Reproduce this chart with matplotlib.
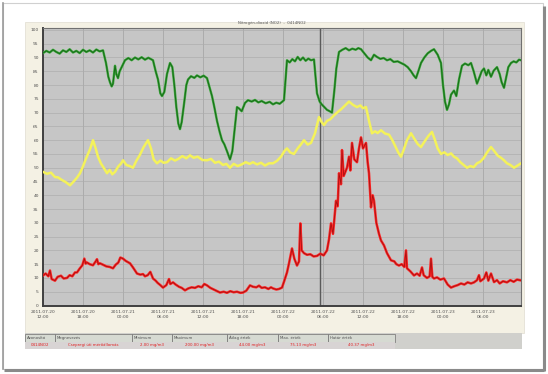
import matplotlib
matplotlib.use("Agg")
import matplotlib.pyplot as plt
from matplotlib.patches import Rectangle

# ---------------- data (hours since 2011.07.20 12:00) ----------------
green_h = [0, 0.5, 1.0, 1.5, 2.0, 2.5, 3.0, 3.5, 4.0, 4.5, 5.0, 5.5, 6.0, 6.5, 7.0, 7.5, 8.0, 8.5, 9.0,
           9.45, 9.8, 10.05, 10.3, 10.5, 10.8, 11.0, 11.25, 11.5, 11.8, 12.3, 12.8, 13.3, 13.8, 14.3,
           14.8, 15.3, 15.8, 16.5, 16.9, 17.25, 17.6, 17.85, 18.2, 18.6, 19.05, 19.4, 19.7, 20.0, 20.3,
           20.55, 20.8, 21.2, 21.5, 21.75, 22.2, 22.7, 23.1, 23.6, 24.1, 24.6, 25.0, 25.35, 25.7, 26.1,
           26.5, 26.85, 27.2, 27.6, 28.05, 28.4, 28.7, 29.1, 29.4, 29.8, 30.3, 30.75, 31.3, 31.8, 32.3,
           32.8, 33.4, 34.0, 34.5, 35.0, 35.5, 36.15, 36.6, 37.0, 37.4, 37.8, 38.2, 38.6, 39.0, 39.4,
           39.8, 40.2, 40.65, 41.1, 41.5, 41.8, 42.2, 42.6, 43.0, 43.35, 43.7, 44.0, 44.4, 44.9, 45.4,
           45.9, 46.4, 46.9, 47.3, 47.7, 48.2, 48.7, 49.2, 49.65, 50.1, 50.6, 51.1, 51.6, 52.1, 52.6,
           53.2, 53.7, 54.2, 54.7, 55.2, 55.6, 55.95, 56.3, 56.7, 57.2, 57.7, 58.2, 58.65, 59.2, 59.7,
           60.0, 60.3, 60.6, 60.9, 61.2, 61.65, 62.0, 62.4, 62.85, 63.3, 63.8, 64.2, 64.6, 65.1, 65.5,
           65.8, 66.15, 66.5, 66.8, 67.2, 67.6, 68.1, 68.5, 68.8, 69.15, 69.5, 69.8, 70.2, 70.6, 71.0,
           71.4, 71.7]
green_v = [91.6, 92.4, 91.8, 92.8, 92.0, 91.4, 92.6, 92.0, 93.0, 91.8, 92.4, 91.6, 92.8, 92.0, 92.6,
           91.8, 92.9, 92.2, 92.6, 88.0, 83.0, 81.0, 79.5, 80.5, 87.0, 84.0, 82.5, 85.0, 86.5, 89.0,
           89.8, 89.0, 90.0, 89.3, 90.1, 89.2, 89.9, 89.0, 85.0, 82.0, 77.0, 76.0, 77.5, 84.0, 88.0,
           86.5, 80.0, 72.0, 66.0, 64.0, 66.5, 74.0, 80.0, 82.0, 83.2, 82.6, 83.5, 82.8, 83.4, 82.5,
           79.0, 76.0, 72.0, 67.0, 63.0, 60.0, 58.5, 56.0, 53.0, 56.0, 63.0, 72.0, 71.5, 70.5, 73.5,
           74.5, 74.0, 74.6, 73.7, 74.2, 73.4, 73.9, 73.0, 73.6, 73.2, 74.5, 89.0, 88.2, 89.4, 88.6,
           90.2, 89.0, 90.0, 88.8, 89.6, 89.0, 89.3, 77.0, 74.0, 73.0, 72.0, 71.0, 70.5, 70.0, 78.0,
           86.0, 92.0, 92.8, 93.4, 92.6, 93.2, 92.8, 93.4, 93.0, 91.5, 90.0, 89.0, 91.0, 90.2, 89.5,
           89.8, 89.0, 89.4, 88.4, 88.6, 88.0, 87.4, 86.5, 85.0, 83.5, 82.5, 85.0, 88.0, 90.0, 91.5,
           92.4, 93.0, 91.0, 88.0, 80.0, 74.0, 71.0, 73.0, 76.5, 78.0, 76.0, 82.0, 87.0, 87.8, 87.2,
           88.0, 85.0, 80.5, 83.0, 85.0, 86.0, 83.5, 85.5, 83.0, 85.2, 86.5, 84.0, 81.0, 79.0, 83.0,
           86.5, 88.0, 88.6, 88.2, 89.2, 89.0]

yellow_h = [0, 0.6, 1.2, 1.8, 2.25, 2.8, 3.4, 4.05, 4.6, 5.1, 5.55, 6.0, 6.4, 6.75, 7.1, 7.5, 7.9, 8.25,
            8.7, 9.1, 9.6, 10.0, 10.4, 10.8, 11.3, 11.7, 12.0, 12.5, 13.0, 13.5, 14.0, 14.5, 15.1,
            15.75, 16.2, 16.6, 17.1, 17.6, 18.1, 18.6, 19.2, 19.8, 20.3, 20.9, 21.5, 22.05, 22.6, 23.2,
            23.9, 24.6, 25.2, 25.8, 26.4, 27.0, 27.5, 28.05, 28.6, 29.2, 29.8, 30.4, 31.0, 31.5, 32.1,
            32.7, 33.3, 33.9, 34.5, 35.1, 35.7, 36.2, 36.6, 37.1, 37.65, 38.2, 38.7, 39.15, 39.7, 40.2,
            40.8, 41.4, 41.8, 42.15, 42.6, 43.1, 43.65, 44.2, 44.8, 45.3, 45.9, 46.5, 47.1, 47.6, 48.0,
            48.45, 48.9, 49.35, 49.8, 50.2, 50.7, 51.3, 51.9, 52.4, 52.9, 53.3, 53.7, 54.1, 54.6, 55.2,
            55.7, 56.2, 56.7, 57.2, 57.8, 58.35, 58.8, 59.2, 59.7, 60.2, 60.7, 61.2, 61.65, 62.1, 62.6,
            63.1, 63.6, 64.1, 64.6, 65.1, 65.6, 66.1, 66.6, 67.2, 67.7, 68.2, 68.7, 69.15, 69.6, 70.1,
            70.65, 71.2, 71.7]
yellow_v = [48.5, 47.8, 48.2, 46.6, 46.5, 45.6, 44.8, 43.6, 45.0, 46.4, 48.0, 50.5, 53.0, 55.0, 57.0,
            60.0, 57.0, 54.0, 51.5, 50.0, 48.0, 49.2, 47.6, 48.5, 50.5, 51.5, 52.7, 51.0, 50.6, 50.0,
            52.5, 54.5, 57.5, 60.0, 57.0, 53.0, 51.6, 52.6, 51.8, 52.0, 53.4, 52.6, 53.2, 54.2, 53.4,
            54.5, 53.6, 54.0, 52.8, 52.7, 53.2, 51.8, 52.2, 51.0, 51.4, 50.0, 51.4, 50.6, 51.2, 52.0,
            51.4, 52.0, 51.2, 51.8, 50.8, 51.6, 51.6, 52.5, 54.0, 56.0, 57.0, 55.5, 55.0, 57.0, 58.5,
            60.0, 58.4, 59.0, 62.5, 68.4, 66.5, 65.5, 67.0, 67.6, 69.0, 70.2, 71.4, 72.6, 74.0, 72.8,
            72.0, 72.6, 71.6, 72.0, 67.0, 62.5, 63.2, 62.6, 63.6, 62.4, 62.0, 60.0, 57.5, 55.5, 54.0,
            56.5, 60.0, 62.5, 60.5, 58.6, 57.5, 59.4, 61.5, 63.0, 60.0, 57.0, 55.0, 55.6, 54.6, 55.2,
            54.0, 53.4, 52.0, 51.0, 50.0, 50.6, 50.2, 51.6, 52.2, 53.5, 55.5, 57.5, 56.0, 54.4, 53.6,
            52.7, 51.6, 51.0, 50.0, 50.8, 51.6]

red_h = [0, 0.4, 0.8, 1.05, 1.3, 1.8, 2.2, 2.7, 3.1, 3.6, 4.0, 4.4, 4.8, 5.1, 5.5, 5.9, 6.2, 6.4, 6.6,
         7.0, 7.5, 7.9, 8.1, 8.3, 8.55, 9.0, 9.5, 10.0, 10.5, 10.9, 11.3, 11.6, 12.0, 12.4, 12.7, 13.05,
         13.5, 14.1, 14.6, 15.0, 15.3, 15.7, 16.1, 16.5, 16.9, 17.2, 17.6, 18.0, 18.5, 18.9, 19.1, 19.5,
         19.9, 20.4, 20.8, 21.3, 21.8, 22.3, 22.8, 23.3, 23.8, 24.2, 24.6, 25.1, 25.6, 26.1, 26.55,
         27.1, 27.6, 28.1, 28.6, 29.1, 29.6, 30.0, 30.5, 31.05, 31.5, 32.0, 32.4, 32.8, 33.3, 33.8,
         34.2, 34.5, 35.0, 35.4, 35.85, 36.2, 36.6, 36.9, 37.35, 37.7, 38.1, 38.4, 38.6, 38.8, 39.15,
         39.6, 40.1, 40.6, 41.1, 41.6, 42.1, 42.6, 42.9, 43.2, 43.5, 43.95, 44.2, 44.4, 44.7, 44.85,
         45.1, 45.6, 45.9, 46.1, 46.35, 46.7, 47.1, 47.4, 47.7, 48.0, 48.45, 48.7, 48.9, 49.2, 49.45,
         49.65, 50.0, 50.4, 50.7, 51.15, 51.6, 52.2, 52.7, 53.0, 53.4, 53.8, 54.2, 54.45, 54.6, 55.1,
         55.65, 56.1, 56.5, 56.85, 57.1, 57.6, 58.0, 58.2, 58.4, 58.65, 59.1, 59.6, 60.15, 60.7, 61.2,
         61.7, 62.2, 62.7, 63.2, 63.7, 64.2, 64.65, 65.1, 65.4, 65.6, 66.15, 66.5, 66.8, 67.2, 67.65,
         68.1, 68.5, 69.0, 69.6, 70.1, 70.6, 71.1, 71.7]
red_v = [10.9, 11.6, 10.6, 12.7, 9.6, 9.0, 10.4, 10.8, 9.8, 10.0, 11.0, 10.6, 12.0, 12.0, 13.4, 14.6,
         17.0, 15.2, 15.6, 15.0, 14.6, 16.0, 16.8, 15.0, 15.3, 14.8, 14.2, 14.0, 13.5, 14.8, 15.6,
         17.4, 17.0, 16.2, 15.8, 15.3, 13.8, 11.6, 11.2, 11.4, 10.6, 11.0, 12.2, 9.8, 9.0, 8.2, 7.4,
         6.5, 7.4, 9.6, 7.8, 8.4, 7.6, 6.8, 6.4, 5.5, 6.2, 6.6, 6.4, 7.0, 6.6, 7.8, 7.3, 6.4, 5.8,
         5.2, 4.7, 5.0, 4.6, 5.2, 4.8, 5.0, 4.6, 4.7, 5.4, 7.3, 6.8, 6.6, 7.2, 6.4, 6.6, 6.0, 6.6,
         6.2, 5.8, 6.0, 6.5, 9.0, 12.0, 15.3, 20.7, 17.0, 14.5, 16.0, 29.8, 20.0, 19.0, 18.4, 18.6,
         17.8, 18.0, 18.8, 18.2, 20.0, 24.0, 29.8, 26.0, 38.0, 36.0, 48.0, 44.0, 56.4, 47.0, 50.0,
         54.0, 49.0, 59.0, 53.0, 52.0, 57.0, 61.0, 57.0, 59.0, 52.0, 48.0, 35.6, 40.0, 38.0, 30.0,
         26.0, 23.6, 21.8, 19.0, 16.4, 16.0, 15.0, 14.5, 15.0, 14.0, 20.0, 13.5, 12.4, 10.9, 11.6,
         10.8, 13.8, 11.0, 10.0, 10.6, 17.0, 10.4, 9.8, 10.2, 9.4, 9.8, 7.6, 6.5, 7.0, 7.4, 8.0,
         7.6, 8.4, 8.0, 8.4, 9.2, 11.0, 8.8, 9.8, 12.0, 9.0, 11.6, 8.5, 9.2, 8.0, 8.8, 8.4, 9.2,
         8.6, 9.4, 9.1]

x_ticks = [0, 6, 12, 18, 24, 30, 36, 42, 48, 54, 60, 66]
x_labels = ["2011.07.20\n12:00", "2011.07.20\n18:00", "2011.07.21\n00:00", "2011.07.21\n06:00",
            "2011.07.21\n12:00", "2011.07.21\n18:00", "2011.07.22\n00:00", "2011.07.22\n06:00",
            "2011.07.22\n12:00", "2011.07.22\n18:00", "2011.07.23\n00:00", "2011.07.23\n06:00"]
y_ticks = list(range(0, 101, 5))
cursor_h = 41.55

table_header = ["Azonosító", "Megnevezés", "Minimum", "Maximum", "Átlag érték", "Max. érték", "Határ érték"]
table_row = ["0414NO2", "Csepregi úti mérőállomás", "2.00 mg/m3", "200.00 mg/m3", "44.00 mg/m3",
             "75.13 mg/m3", "40.37 mg/m3"]
title_text = "Nitrogén-dioxid (NO2)  -  0414NO2"

# ---------------- figure ----------------
W, H = 548, 374
fig = plt.figure(figsize=(W / 100, H / 100), dpi=100)
fig.patch.set_facecolor("white")

bg = fig.add_axes([0, 0, 1, 1], zorder=0)
bg.set_xlim(0, W)
bg.set_ylim(H, 0)
bg.axis("off")

# outer screenshot frame with shadow
bg.add_patch(Rectangle((3, 3), 540, 366, facecolor="white", edgecolor="#d0d0d0", lw=0.8))
bg.plot([4, 544], [370, 370], color="#8a8a8a", lw=2.2, solid_capstyle="butt")
bg.plot([544, 544], [6, 371], color="#8a8a8a", lw=2.2, solid_capstyle="butt")
bg.plot([3, 3], [3, 369], color="#9a9a9a", lw=1.2)

# beige panel
bg.add_patch(Rectangle((25, 22), 499, 311, facecolor="#f4f1e4", edgecolor="#e0ddd0", lw=0.5))
bg.text(272, 22.5, title_text, fontsize=2.8, color="#555555", ha="center", va="center")

# table
col_x = [25, 55, 132, 172, 227, 278, 328, 395]
bg.add_patch(Rectangle((25, 333), 497, 16, facecolor="#d0d0cc", edgecolor="none"))
for i in range(7):
    bg.add_patch(Rectangle((col_x[i], 334), col_x[i + 1] - col_x[i], 7.5, facecolor="#d6dad2",
                           edgecolor="#707070", lw=0.5))
    bg.add_patch(Rectangle((col_x[i], 341.5), col_x[i + 1] - col_x[i], 7.5, facecolor="#d8d4d4",
                           edgecolor="none"))
    bg.text(col_x[i] + 2, 337.8, table_header[i], fontsize=2.8, color="#505050", va="center")
    cx = (col_x[i] + col_x[i + 1]) / 2
    bg.text(cx, 345.3, table_row[i], fontsize=2.8, color="#e02020", va="center", ha="center")

# ---------------- plot axes ----------------
left, right, top, bottom = 43, 521, 28, 305.5
ax = fig.add_axes([left / W, 1 - bottom / H, (right - left) / W, (bottom - top) / H], zorder=2)
ax.set_facecolor("#c6c6c6")
ax.set_xlim(0, 71.7)
ax.set_ylim(0, 100.7)

for y in y_ticks:
    ax.axhline(y, color="#b2b2b2", lw=0.6, zorder=1)
for x in x_ticks:
    ax.axvline(x, color="#acacac", lw=0.7, zorder=1)
ax.axvline(cursor_h, color="#5a5a5a", lw=1.0, zorder=2)

# series
ax.plot(green_h, green_v, color="#3fae3f", lw=1.7, zorder=3, solid_joinstyle="round")
ax.plot(green_h, green_v, color="#1a6e1a", lw=0.8, zorder=4, solid_joinstyle="round")
ax.plot(yellow_h, yellow_v, color="#f4f25a", lw=1.8, zorder=3, solid_joinstyle="round")
ax.plot(red_h, red_v, color="#ff2626", lw=1.8, zorder=3, solid_joinstyle="round")
ax.plot(red_h, red_v, color="#a81010", lw=0.6, zorder=4, solid_joinstyle="round")

ax.set_xticks(x_ticks)
ax.set_xticklabels(x_labels, fontsize=3.2, color="#505050", linespacing=1.6)
ax.set_yticks(y_ticks)
ax.set_yticklabels([str(v) for v in y_ticks], fontsize=3.2, color="#505050")
ax.tick_params(axis="both", length=0, pad=3)
for s in ["left", "bottom"]:
    ax.spines[s].set_color("#404040")
    ax.spines[s].set_linewidth(1.4)
for s in ["top", "right"]:
    ax.spines[s].set_color("#707070")
    ax.spines[s].set_linewidth(0.8)

fig.savefig("out.png", dpi=100, facecolor="white")
